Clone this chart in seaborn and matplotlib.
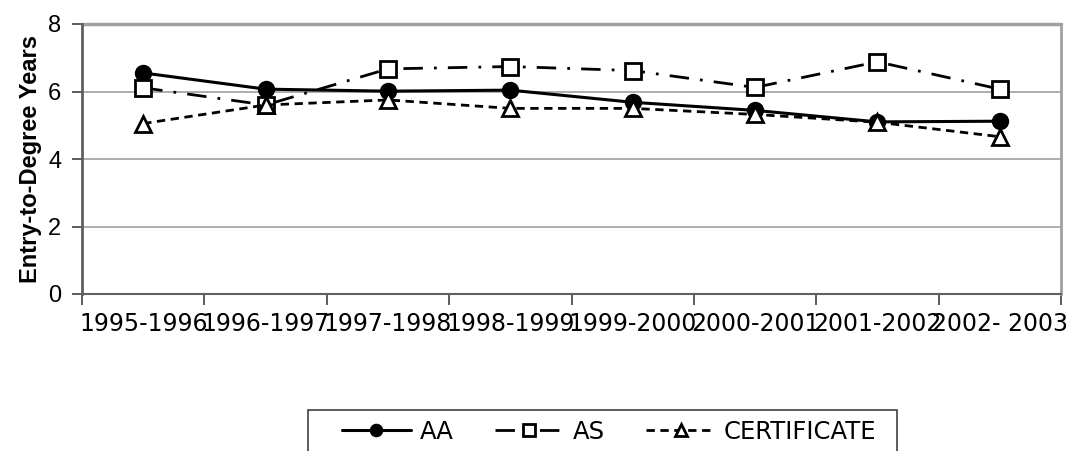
import matplotlib
matplotlib.use('Agg')
import matplotlib.pyplot as plt
from matplotlib.patches import Rectangle
import seaborn as sns
import pandas as pd

years = ['1995-1996', '1996-1997', '1997-1998', '1998-1999',
         '1999-2000', '2000-2001', '2001-2002', '2002- 2003']
aa = [6.55, 6.07, 6.01, 6.04, 5.68, 5.44, 5.10, 5.12]
as_vals = [6.11, 5.60, 6.67, 6.74, 6.62, 6.12, 6.88, 6.07]
cert = [5.05, 5.60, 5.75, 5.50, 5.50, 5.32, 5.09, 4.66]

df = pd.DataFrame({'year': years, 'pos': range(len(years)),
                   'AA': aa, 'AS': as_vals, 'CERTIFICATE': cert})

sns.set_style('white')
plt.rcParams['text.color'] = 'black'
plt.rcParams['axes.labelcolor'] = 'black'
plt.rcParams['xtick.labelcolor'] = 'black'
plt.rcParams['ytick.labelcolor'] = 'black'

W, H = 1074, 451
fig = plt.figure(figsize=(W / 100, H / 100), dpi=100)
ax = fig.add_axes([82 / W, 1 - 294 / H, (1061 - 82) / W, 270 / H])

sns.lineplot(data=df, x='pos', y='AA', ax=ax, color='black', lw=2.2,
             marker='o', markersize=11, markerfacecolor='black',
             markeredgecolor='black', markeredgewidth=1.5, label='AA', zorder=3)
sns.lineplot(data=df, x='pos', y='AS', ax=ax, color='black', lw=2.0,
             linestyle=(0, (7, 4, 1, 4)),
             marker='s', markersize=11, markerfacecolor='white',
             markeredgecolor='black', markeredgewidth=2, label='AS', zorder=4)
sns.lineplot(data=df, x='pos', y='CERTIFICATE', ax=ax, color='black', lw=2.0,
             linestyle=(0, (3, 2)),
             marker='^', markersize=12, markerfacecolor='white',
             markeredgecolor='black', markeredgewidth=2, label='CERTIFICATE', zorder=5)

ax.set_xlim(-0.5, len(years) - 0.5)
ax.set_ylim(0, 8)
ax.set_yticks([0, 2, 4, 6, 8])
ax.set_yticklabels(['0', '2', '4', '6', '8'], fontsize=17, fontfamily='Liberation Sans')
ax.set_xticks([i - 0.5 for i in range(len(years) + 1)])
ax.set_xticklabels([])
ax.set_xticks(range(len(years)), minor=True)
ax.set_xticklabels(years, minor=True, fontsize=17, fontfamily='DejaVu Sans')
ax.tick_params(axis='x', which='major', direction='out', length=8, width=1.2,
               color='#404040', bottom=True)
ax.tick_params(axis='x', which='minor', length=0, pad=13)
ax.tick_params(axis='y', direction='out', length=7, width=1.2, color='#404040',
               left=True, pad=8)

ax.grid(axis='y', color='#a0a0a0', lw=1.2)
ax.set_axisbelow(True)
ax.spines['top'].set_visible(False)
ax.spines['right'].set_color('#a0a0a0')
ax.spines['right'].set_linewidth(2)
ax.spines['left'].set_color('#606060')
ax.spines['left'].set_linewidth(2)
ax.spines['bottom'].set_color('#606060')
ax.spines['bottom'].set_linewidth(1.5)
ax.axhline(8, color='#a0a0a0', lw=2.5, clip_on=False)

ax.set_xlabel('')
ax.set_ylabel('Entry-to-Degree Years', fontsize=17, fontweight='bold',
              fontfamily='Liberation Sans', labelpad=4)

handles, labels = ax.get_legend_handles_labels()
ax.legend_.remove()
leg = fig.legend(handles, labels, loc='upper center', ncol=3,
                 bbox_to_anchor=(609 / W, 1 - 420 / H),
                 frameon=False, borderaxespad=0, borderpad=0,
                 handlelength=2.85, columnspacing=1.7, handletextpad=0.35,
                 markerscale=0.75, prop={'family': 'DejaVu Sans', 'size': 17.5})

# legend frame, running off the bottom edge as in the reference
fig.patches.append(Rectangle((308 / W, -0.05), (897 - 308) / W, (1 - 410 / H) + 0.05,
                             transform=fig.transFigure, fill=False,
                             edgecolor='#404040', lw=1.2))

plt.savefig('out.png', dpi=100)
